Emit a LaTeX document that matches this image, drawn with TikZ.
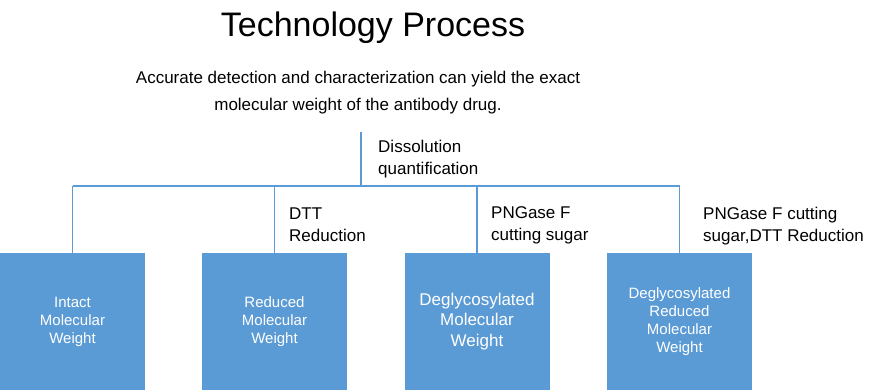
\documentclass[tikz,border=0pt]{standalone}
\usepackage{fontspec}
\setmainfont{Liberation Sans}
\definecolor{boxblue}{HTML}{5B9BD5}
\tikzset{
    mwbox/.style={fill=boxblue, text=white, align=center, minimum width=145pt, minimum height=137pt, inner sep=0pt},
    steplabel/.style={anchor=west, align=left, inner sep=0pt, font=\fontsize{17}{22}\selectfont},
    bus/.style={draw=boxblue, line width=1.6pt}
}
\begin{document}
\begin{tikzpicture}[x=1pt, y=-1pt]
    \useasboundingbox (0,0) rectangle (889,391);

    % Heading
    \node (title) at (373,28) {\fontsize{34}{40}\selectfont Technology Process};
    \node[align=center, font=\fontsize{17}{27}\selectfont] (intro) at (358,93)
        {Accurate detection and characterization can yield the exact\\molecular weight of the antibody drug.};

    % Result boxes
    \node[mwbox, font=\fontsize{15}{18}\selectfont] (intact) at (72.5,321.5) {Intact\\Molecular\\Weight};
    \node[mwbox, font=\fontsize{15}{18}\selectfont] (reduced) at (274.5,321.5) {Reduced\\Molecular\\Weight};
    \node[mwbox, font=\fontsize{17}{20.5}\selectfont] (degly) at (477,321.5) {Deglycosylated\\Molecular\\Weight};
    \node[mwbox, font=\fontsize{15}{18}\selectfont] (deglyred) at (679.5,321.5) {Deglycosylated\\Reduced\\Molecular\\Weight};

    % Tree
    \coordinate (top) at (361,132);
    \coordinate (hub) at (361,186);
    \draw[bus] (top) -- (hub);
    \draw[bus] (intact.north |- hub) -- (deglyred.north |- hub);
    \foreach \b in {intact, reduced, degly, deglyred}
        \draw[bus] (\b.north |- hub) -- (\b.north);

    % Step labels
    \node[steplabel] (dissolve) at (378,159) {Dissolution\\quantification};
    \node[steplabel] (dtt) at (289,225) {DTT\\Reduction};
    \node[steplabel] (pngase) at (491,225) {PNGase F\\cutting sugar};
    \node[steplabel] (both) at (703,226) {PNGase F cutting\\sugar,DTT Reduction};
\end{tikzpicture}
\end{document}
